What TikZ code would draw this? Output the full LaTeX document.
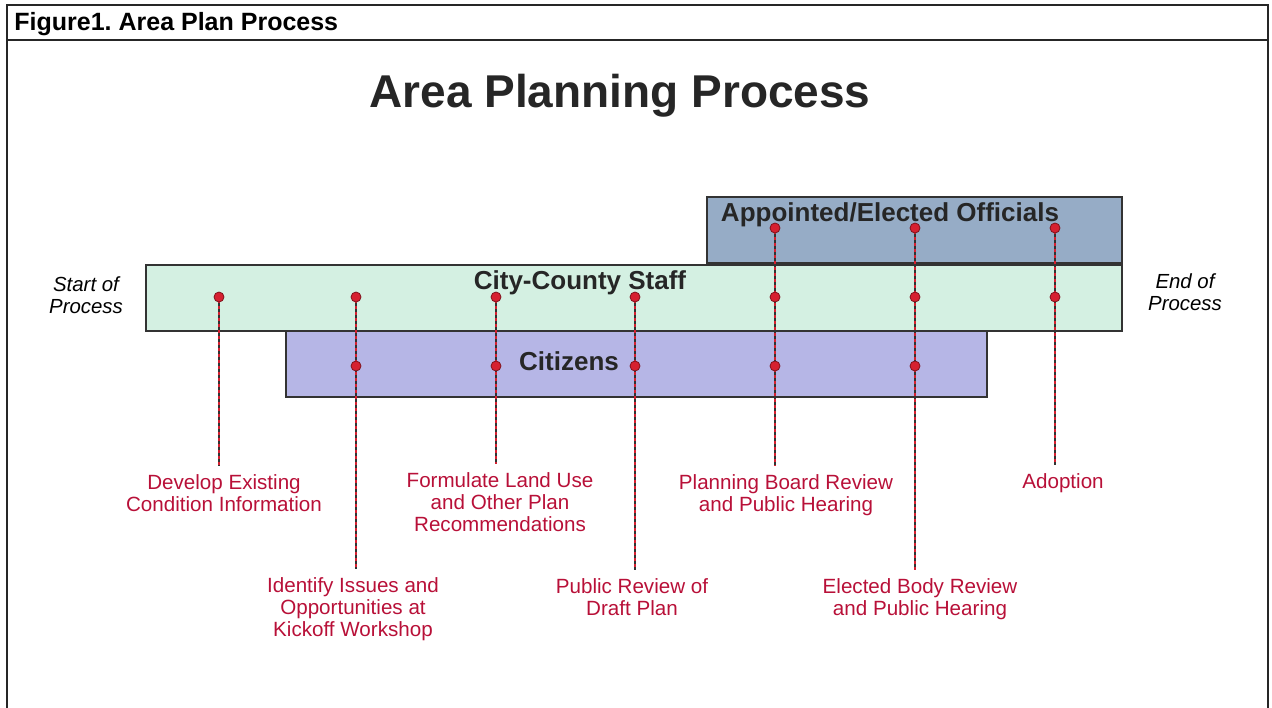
\documentclass[tikz,border=0pt]{standalone}
\usepackage{fontspec}
\setmainfont{Liberation Sans}
\usetikzlibrary{positioning}
\definecolor{offblue}{RGB}{150,172,198}
\definecolor{staffgreen}{RGB}{212,240,226}
\definecolor{citlav}{RGB}{182,182,230}
\definecolor{steplabel}{RGB}{184,16,56}
\definecolor{dotred}{RGB}{214,32,48}
\frenchspacing
\tikzset{
    bar/.style={draw=black!80, line width=1pt, inner sep=0pt, minimum height=33pt},
    barname/.style={font=\fontsize{13}{15}\selectfont\bfseries, text=black!85, inner sep=0pt},
    milestone/.style={circle, draw=dotred!60!black, fill=dotred, inner sep=0pt, minimum size=5pt},
    steptext/.style={font=\fontsize{10.3}{11}\selectfont, text=steplabel, align=center, anchor=north, inner sep=4pt},
    link/.style={draw=dotred, line width=0.9pt, postaction={draw=black!80, line width=0.9pt, dash pattern=on 1.5pt off 1.5pt}},
    endtext/.style={font=\fontsize{10.2}{11}\selectfont\itshape, align=center}
}

\begin{document}
\begin{tikzpicture}[x=0.5pt, y=-0.5pt]
    \useasboundingbox (0,0) rectangle (1272,707);
    % frame and heading
    \draw[line width=0.8pt, black!85] (7,712) -- (7,5) -- (1268,5) -- (1268,712);
    \draw[line width=0.8pt, black!85] (7,40) -- (1268,40);
    \node[anchor=west, inner sep=0pt, font=\fontsize{12.5}{14}\selectfont\bfseries] (heading) at (14,24) {Figure1. Area Plan Process};
    \node[font=\fontsize{23}{26}\selectfont\bfseries, text=black!85] (title) at (620,96) {Area Planning Process};

    % the three bars
    \node[bar, fill=staffgreen, minimum width=488pt] (staff) at (634,298) {};
    \node[bar, fill=offblue, minimum width=207.5pt] (officials) at (914.5,230) {};
    \node[bar, fill=citlav, minimum width=350.5pt] (citizens) at (636.5,364) {};
    \node[barname] (offname) at (890,215) {Appointed/Elected Officials};
    \node[barname] (staffname) at (580,283) {City-County Staff};
    \node[barname] (citname) at (569,361) {Citizens};

    \node[endtext] (start) at (86,295) {Start of\\Process};
    \node[endtext] (end) at (1185,292) {End of\\Process};

    % steps
    \node[steptext] (dev) at (224,466) {Develop Existing\\Condition Information};
    \node[steptext] (iden) at (353,569) {Identify Issues and\\Opportunities at\\Kickoff Workshop};
    \node[steptext] (form) at (500,464) {Formulate Land Use\\and Other Plan\\Recommendations};
    \node[steptext] (pub) at (632,570) {Public Review of\\Draft Plan};
    \node[steptext] (plan) at (786,466) {Planning Board Review\\and Public Hearing};
    \node[steptext] (elec) at (920,570) {Elected Body Review\\and Public Hearing};
    \node[steptext] (adopt) at (1063,465) {Adoption};

    % milestone dots
    \coordinate (s1) at (219,297);
    \coordinate (s2) at (356,297);
    \coordinate (s3) at (496,297);
    \coordinate (s4) at (635,297);
    \coordinate (o1) at (775,228);
    \coordinate (o2) at (915,228);
    \coordinate (o3) at (1055,228);

    \draw[link] (s1) -- (s1 |- dev.north);
    \draw[link] (s2) -- (s2 |- iden.north);
    \draw[link] (s3) -- (s3 |- form.north);
    \draw[link] (s4) -- (s4 |- pub.north);
    \draw[link] (o1) -- (o1 |- plan.north);
    \draw[link] (o2) -- (o2 |- elec.north);
    \draw[link] (o3) -- (o3 |- adopt.north);

    \foreach \px/\nm in {219/1, 356/2, 496/3, 635/4, 775/5, 915/6, 1055/7}
        \node[milestone] (sd\nm) at (\px,297) {};
    \foreach \px/\nm in {356/1, 496/2, 635/3, 775/4, 915/5}
        \node[milestone] (cd\nm) at (\px,366) {};
    \foreach \px/\nm in {775/1, 915/2, 1055/3}
        \node[milestone] (od\nm) at (\px,228) {};
\end{tikzpicture}
\end{document}
